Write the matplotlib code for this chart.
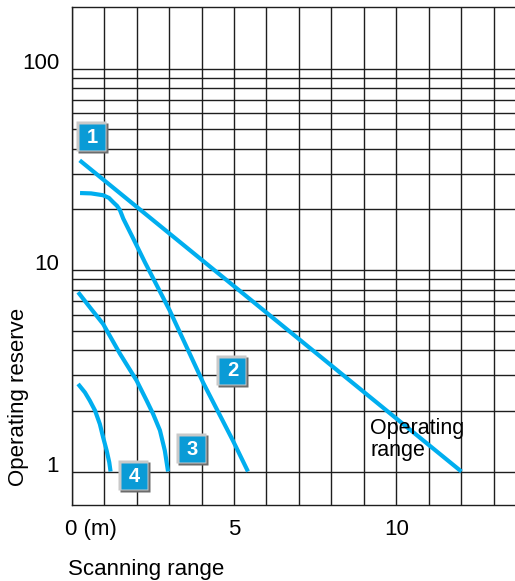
import matplotlib
matplotlib.use("Agg")
import matplotlib.pyplot as plt
import matplotlib.transforms as mtransforms

plt.rcParams['font.family'] = ['Liberation Sans', 'DejaVu Sans']

# curve data: scanning range (m) vs operating reserve
x1 = [0.25, 12.0]
y1 = [35.0, 1.0]

x2 = [0.26, 0.6, 0.97, 1.15, 1.28, 1.4, 1.49, 1.59, 1.9, 2.26, 3.02, 4.05, 4.97, 5.43]
y2 = [24.1, 24.0, 23.5, 22.8, 21.7, 20.8, 19.8, 18.0, 14.3, 10.9, 6.3, 2.76, 1.42, 1.0]

x3 = [0.2, 0.56, 0.97, 1.49, 2.0, 2.31, 2.51, 2.72, 2.87, 2.97]
y3 = [7.76, 6.54, 5.4, 3.84, 2.83, 2.25, 1.93, 1.60, 1.27, 1.0]

x4 = [0.2, 0.41, 0.56, 0.72, 0.87, 0.97, 1.08, 1.16, 1.2]
y4 = [2.72, 2.47, 2.25, 2.01, 1.72, 1.48, 1.27, 1.11, 1.0]

box_labels = ['1', '2', '3', '4']
box_x = [0.64, 4.95, 3.72, 1.93]
box_y = [45.5, 3.16, 1.29, 0.95]

xticks = [0, 5, 10]
xtick_labels = ['', '5', '10']
yticks = [1, 10, 100]
ytick_labels = ['1', '10', '100']

blue = '#00aeef'
grid_col = '#1e1e1e'

fig = plt.figure(figsize=(5.15, 5.81), dpi=100)
ax = fig.add_axes([0.139, 0.131, 0.861, 0.857])

ax.set_yscale('log')
ax.set_xlim(0, 13.65)
ax.set_ylim(0.683, 202)

ax.set_xticks(xticks)
ax.set_xticklabels(xtick_labels)
ax.set_xticks(range(1, 14), minor=True)
ax.set_yticks(yticks)
ax.set_yticklabels(ytick_labels)
ax.set_yticks([2, 3, 4, 5, 6, 7, 8, 9, 20, 30, 40, 50, 60, 70, 80, 90], minor=True)
ax.yaxis.set_minor_formatter(plt.NullFormatter())
ax.tick_params(which='both', length=0)
ax.tick_params(axis='x', pad=10, labelsize=16)
ax.tick_params(axis='y', pad=9, labelsize=16)
for lab in ax.get_yticklabels():
    lab.set_va('baseline')

ax.grid(which='both', color=grid_col, linewidth=1.0)
ax.set_axisbelow(True)
for side in ['top', 'left', 'bottom']:
    ax.spines[side].set_color(grid_col)
    ax.spines[side].set_linewidth(1.0)
ax.spines['right'].set_visible(False)

for xs, ys in [(x1, y1), (x2, y2), (x3, y3), (x4, y4)]:
    ax.plot(xs, ys, color=blue, linewidth=3, solid_capstyle='butt',
            solid_joinstyle='round', zorder=3)

# numbered boxes with a bevelled grey frame
dark = mtransforms.offset_copy(ax.transData, fig=fig, x=1, y=-1, units='dots')
light = mtransforms.offset_copy(ax.transData, fig=fig, x=-1, y=1, units='dots')
for lab, bx, by in zip(box_labels, box_x, box_y):
    ax.plot(bx, by, marker='s', ms=21.5, mfc='#6c6c6c', mec='none', transform=dark, zorder=4)
    ax.plot(bx, by, marker='s', ms=21.5, mfc='#c9c9c9', mec='none', transform=light, zorder=4)
    ax.plot(bx, by, marker='s', ms=18.5, mfc='#0a9bd6', mec='none', zorder=5)
    ax.text(bx, by, lab, color='white', fontsize=14.5, fontweight='bold',
            ha='center', va='center', zorder=6)

ax.text(9.2, 1.85, 'Operating\nrange', fontsize=15.5, ha='left', va='top',
        linespacing=1.1, zorder=6)

ax.annotate('0 (m)', xy=(0, 0), xycoords=('data', 'axes fraction'),
            xytext=(-4.8, -10), textcoords='offset points',
            ha='left', va='top', fontsize=16)

fig.text(68 / 515, 1 - 575 / 581, 'Scanning range', fontsize=16,
         ha='left', va='baseline')
fig.text(19 / 515, 1 - 397 / 581, 'Operating reserve', fontsize=16,
         rotation=90, ha='center', va='center')

fig.savefig('out.png', dpi=100)
